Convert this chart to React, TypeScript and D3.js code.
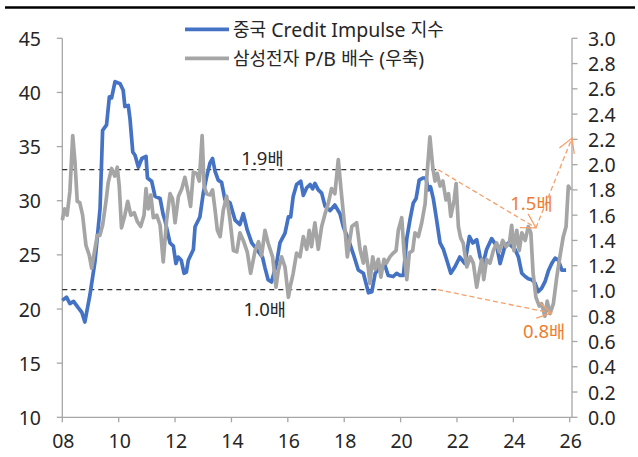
import * as d3 from 'd3';

// 중국 Credit Impulse 지수 (left axis), [decimal year, value]
const creditImpulse: [number, number][] = [
  [2008.0, 20.8], [2008.15, 21.1], [2008.27, 20.5], [2008.4, 20.7], [2008.57, 20.1], [2008.69, 19.7],
  [2008.8, 18.8], [2008.98, 21.3], [2009.16, 24.4], [2009.34, 29.3], [2009.43, 36.5], [2009.57, 37.0],
  [2009.67, 39.6], [2009.75, 39.5], [2009.87, 41.0], [2010.05, 40.8], [2010.16, 40.2], [2010.22, 38.7],
  [2010.34, 38.8], [2010.4, 37.6], [2010.5, 34.5], [2010.58, 34.2], [2010.7, 33.1], [2010.82, 33.9],
  [2010.97, 34.1], [2011.02, 32.1], [2011.17, 31.8], [2011.29, 30.4], [2011.47, 30.2], [2011.58, 28.7],
  [2011.64, 28.2], [2011.82, 26.1], [2011.94, 25.8], [2012.03, 24.2], [2012.11, 24.8], [2012.22, 24.5],
  [2012.32, 23.3], [2012.4, 23.4], [2012.47, 24.5], [2012.65, 25.5], [2012.71, 27.6], [2012.88, 28.5],
  [2013.0, 30.7], [2013.12, 32.2], [2013.24, 33.5], [2013.33, 33.9], [2013.42, 32.7], [2013.53, 31.9],
  [2013.65, 31.7], [2013.77, 30.1], [2013.95, 29.8], [2014.13, 28.2], [2014.3, 27.8], [2014.42, 28.8],
  [2014.56, 27.3], [2014.72, 26.1], [2014.9, 25.5], [2015.01, 25.1], [2015.1, 24.8], [2015.19, 23.8],
  [2015.3, 22.7], [2015.42, 22.5], [2015.6, 24.2], [2015.72, 26.1], [2015.9, 27.0], [2016.02, 28.5],
  [2016.1, 28.5], [2016.19, 30.4], [2016.31, 31.5], [2016.46, 31.8], [2016.55, 30.5], [2016.67, 31.2],
  [2016.79, 31.5], [2016.88, 31.1], [2016.96, 31.6], [2017.08, 31.0], [2017.2, 30.7], [2017.32, 29.5],
  [2017.5, 29.1], [2017.67, 29.6], [2017.85, 28.8], [2017.97, 27.6], [2018.15, 26.4], [2018.32, 25.1],
  [2018.5, 23.6], [2018.68, 23.3], [2018.86, 21.5], [2018.98, 21.6], [2019.1, 23.3], [2019.27, 23.9],
  [2019.45, 24.0], [2019.56, 23.1], [2019.74, 23.0], [2019.86, 23.3], [2019.98, 23.1], [2020.1, 23.1],
  [2020.22, 26.5], [2020.33, 28.2], [2020.45, 29.8], [2020.55, 30.2], [2020.66, 31.9], [2020.8, 32.1],
  [2020.9, 32.1], [2020.98, 31.0], [2021.06, 31.3], [2021.16, 30.2], [2021.28, 28.2], [2021.4, 26.1],
  [2021.52, 25.5], [2021.64, 24.5], [2021.78, 23.3], [2021.93, 23.9], [2022.1, 24.8], [2022.28, 24.2],
  [2022.44, 26.7], [2022.56, 26.1], [2022.7, 26.4], [2022.82, 24.8], [2022.93, 24.2], [2023.05, 25.5],
  [2023.23, 26.5], [2023.41, 25.8], [2023.53, 24.2], [2023.7, 25.8], [2023.82, 26.1], [2023.94, 25.8],
  [2024.06, 25.5], [2024.18, 24.8], [2024.3, 23.3], [2024.42, 23.0], [2024.53, 22.8], [2024.65, 22.7],
  [2024.77, 22.4], [2024.88, 21.6], [2025.0, 21.9], [2025.12, 22.5], [2025.24, 23.5], [2025.36, 24.2],
  [2025.48, 24.7], [2025.6, 24.5], [2025.72, 23.6], [2025.87, 23.6],
];

// 삼성전자 P/B 배수 (right axis)
const samsungPB: [number, number][] = [
  [2008.0, 1.56], [2008.08, 1.65], [2008.17, 1.6], [2008.27, 1.79], [2008.37, 2.23], [2008.45, 2.02],
  [2008.53, 1.71], [2008.62, 1.7], [2008.72, 1.6], [2008.84, 1.36], [2008.96, 1.28], [2009.04, 1.18],
  [2009.14, 1.31], [2009.24, 1.44], [2009.33, 1.44], [2009.43, 1.52], [2009.55, 1.71], [2009.63, 1.86],
  [2009.75, 1.97], [2009.86, 1.91], [2009.95, 1.98], [2010.02, 1.83], [2010.1, 1.5], [2010.22, 1.6],
  [2010.32, 1.71], [2010.43, 1.6], [2010.55, 1.62], [2010.66, 1.55], [2010.78, 1.51], [2010.9, 1.6],
  [2010.97, 1.81], [2011.05, 1.65], [2011.14, 1.76], [2011.23, 1.58], [2011.35, 1.6], [2011.47, 1.52],
  [2011.58, 1.23], [2011.7, 1.56], [2011.82, 1.77], [2011.91, 1.73], [2012.0, 1.54], [2012.12, 1.75],
  [2012.24, 1.81], [2012.35, 1.9], [2012.47, 1.77], [2012.55, 1.67], [2012.65, 1.94], [2012.77, 1.93],
  [2012.86, 1.87], [2012.96, 2.23], [2013.03, 1.83], [2013.12, 1.77], [2013.24, 1.76], [2013.33, 1.8],
  [2013.42, 1.64], [2013.5, 1.48], [2013.6, 1.43], [2013.71, 1.64], [2013.83, 1.75], [2013.95, 1.56],
  [2014.07, 1.32], [2014.19, 1.31], [2014.3, 1.46], [2014.42, 1.4], [2014.56, 1.31], [2014.68, 1.14],
  [2014.84, 1.32], [2014.96, 1.39], [2015.07, 1.28], [2015.19, 1.48], [2015.3, 1.38], [2015.46, 1.27],
  [2015.58, 1.03], [2015.66, 1.16], [2015.78, 1.27], [2015.9, 1.19], [2016.02, 0.95], [2016.08, 1.03],
  [2016.19, 1.14], [2016.31, 1.3], [2016.43, 1.27], [2016.55, 1.43], [2016.67, 1.33], [2016.76, 1.48],
  [2016.84, 1.35], [2016.96, 1.54], [2017.08, 1.33], [2017.2, 1.51], [2017.32, 1.61], [2017.43, 1.69],
  [2017.55, 1.81], [2017.67, 1.77], [2017.79, 2.04], [2017.91, 1.75], [2018.03, 1.48], [2018.11, 1.27],
  [2018.27, 1.51], [2018.44, 1.54], [2018.56, 1.33], [2018.68, 1.22], [2018.74, 1.35], [2018.86, 1.17],
  [2018.91, 1.06], [2019.01, 1.27], [2019.1, 1.17], [2019.21, 1.25], [2019.3, 1.11], [2019.41, 1.25],
  [2019.5, 1.22], [2019.62, 1.27], [2019.74, 1.3], [2019.84, 1.32], [2019.92, 1.48], [2020.04, 1.58],
  [2020.12, 1.32], [2020.22, 1.09], [2020.31, 1.3], [2020.43, 1.32], [2020.51, 1.46], [2020.63, 1.43],
  [2020.75, 1.54], [2020.87, 1.69], [2020.93, 1.9], [2021.04, 2.22], [2021.14, 1.98], [2021.22, 1.87],
  [2021.3, 1.93], [2021.4, 1.83], [2021.5, 1.87], [2021.61, 1.72], [2021.7, 1.77], [2021.78, 1.59],
  [2021.9, 1.72], [2021.97, 1.85], [2022.05, 1.51], [2022.13, 1.42], [2022.22, 1.38], [2022.35, 1.19],
  [2022.47, 1.27], [2022.58, 1.22], [2022.7, 1.03], [2022.8, 1.16], [2022.88, 1.25], [2022.95, 1.09],
  [2023.05, 1.25], [2023.17, 1.22], [2023.29, 1.32], [2023.41, 1.38], [2023.5, 1.31], [2023.62, 1.4],
  [2023.74, 1.35], [2023.86, 1.38], [2023.94, 1.52], [2024.02, 1.32], [2024.12, 1.48], [2024.21, 1.32],
  [2024.3, 1.46], [2024.42, 1.4], [2024.53, 1.51], [2024.62, 1.46], [2024.7, 1.14], [2024.8, 0.95],
  [2024.92, 0.88], [2025.0, 0.9], [2025.12, 0.8], [2025.2, 0.92], [2025.3, 0.82], [2025.42, 0.9],
  [2025.54, 1.11], [2025.65, 1.27], [2025.77, 1.43], [2025.87, 1.51], [2025.95, 1.83], [2026.03, 1.8],
];

const xTickYears = [2008, 2010, 2012, 2014, 2016, 2018, 2020, 2022, 2024, 2026];
const leftTicks = [10, 15, 20, 25, 30, 35, 40, 45];
const rightTicks = d3.range(0, 3.01, 0.2);

// P/B band lines (right axis) and the arrows drawn from their end
const bandLevels = [1.96, 1.01];
const bandEnd = 2021.33;
const arrows: [number, number, number, number][] = [
  [2021.33, 1.96, 2024.8, 1.5],
  [2024.8, 1.5, 2026.08, 2.21],
  [2021.33, 1.01, 2025.35, 0.825],
];
const notes: { num: string; year: number; pb: number; color: string }[] = [
  { num: '1.9', year: 2015.1, pb: 2.0, color: '#262626' },
  { num: '1.0', year: 2015.18, pb: 0.8, color: '#262626' },
  { num: '1.5', year: 2024.64, pb: 1.64, color: '#ED7D31' },
  { num: '0.8', year: 2025.09, pb: 0.63, color: '#ED7D31' },
];

const W = 638;
const H = 457;
const font = '"Noto Sans", "Noto Sans CJK KR", sans-serif';
const axisColor = '#A6A6A6';
const textColor = '#262626';

const x = d3.scaleLinear().domain([2008, 2026.08]).range([62.3, 572]);
const yL = d3.scaleLinear().domain([10, 45]).range([417.3, 38.3]);
const yR = d3.scaleLinear().domain([0, 3]).range([417.3, 38.3]);

const arrowHead = (x1: number, y1: number, x2: number, y2: number) => {
  const a = Math.atan2(y2 - y1, x2 - x1) + Math.PI;
  const len = 16;
  const s = Math.PI / 6;
  return `M${x2 + len * Math.cos(a - s)},${y2 + len * Math.sin(a - s)}L${x2},${y2}L${x2 + len * Math.cos(a + s)},${y2 + len * Math.sin(a + s)}`;
};

export default function App() {
  const blueLine = d3.line<[number, number]>().x((d) => x(d[0])).y((d) => yL(d[1]))(creditImpulse) ?? '';
  const grayLine = d3.line<[number, number]>().x((d) => x(d[0])).y((d) => yR(d[1]))(samsungPB) ?? '';

  const [x0] = x.range();
  const [yb, yt] = yL.range();
  const xr = x(2026.08);

  return (
    <svg width={W} height={H} style={{ position: 'absolute', left: 0, top: 0, background: '#fff' }} fontFamily={font}>
      <line x1={5} x2={635} y1={7.5} y2={7.5} stroke="#000" strokeWidth={2.5} />

      {/* axes */}
      <g stroke={axisColor} strokeWidth={1.3}>
        <line x1={x0} x2={x0} y1={yt} y2={yb} />
        <line x1={xr} x2={xr} y1={yt} y2={yb} />
        <line x1={x0} x2={xr} y1={yb} y2={yb} />
        {leftTicks.map((t) => (
          <line key={'l' + t} x1={x0 - 5.5} x2={x0} y1={yL(t)} y2={yL(t)} />
        ))}
        {rightTicks.map((t) => (
          <line key={'r' + t} x1={xr} x2={xr + 5.5} y1={yR(t)} y2={yR(t)} />
        ))}
        {xTickYears.map((t) => (
          <line key={'x' + t} x1={x(t)} x2={x(t)} y1={yb} y2={yb + 5} />
        ))}
      </g>
      <g fill={textColor} fontSize={19.5}>
        {leftTicks.map((t) => (
          <text key={'lt' + t} x={41} y={yL(t)} textAnchor="end" dominantBaseline="central">{t}</text>
        ))}
        {rightTicks.map((t) => (
          <text key={'rt' + t} x={588} y={yR(t)} dominantBaseline="central">{t.toFixed(1)}</text>
        ))}
        {xTickYears.map((t) => (
          <text key={'xt' + t} x={x(t) + 1} y={440} textAnchor="middle" dominantBaseline="central">
            {String(t % 100).padStart(2, '0')}
          </text>
        ))}
      </g>

      {/* band lines */}
      {bandLevels.map((b) => (
        <line key={b} x1={x0} x2={x(bandEnd)} y1={yR(b)} y2={yR(b)} stroke="#333" strokeWidth={1.2} strokeDasharray="5 4" />
      ))}

      {/* series */}
      <path d={blueLine} fill="none" stroke="#4472C4" strokeWidth={3.7} strokeLinejoin="round" />
      <path d={grayLine} fill="none" stroke="#A5A5A5" strokeWidth={3.7} strokeLinejoin="round" />

      {/* arrows */}
      <g stroke="#F4A06A" strokeWidth={1.3} fill="none">
        {arrows.map(([a, b, c, d], i) => {
          const px1 = x(a), py1 = yR(b), px2 = x(c), py2 = yR(d);
          return (
            <g key={i}>
              <line x1={px1} y1={py1} x2={px2} y2={py2} strokeDasharray="5 3" />
              <path d={arrowHead(px1, py1, px2, py2)} />
            </g>
          );
        })}
      </g>

      {notes.map((n) => (
        <text key={n.num} x={x(n.year)} y={yR(n.pb)} textAnchor="middle" fontSize={18.5} fill={n.color}>
          {n.num}
          <tspan fontSize={17.5}>배</tspan>
        </text>
      ))}

      {/* legend */}
      <line x1={185} x2={229} y1={29.3} y2={29.3} stroke="#4472C4" strokeWidth={3.7} />
      <text x={233} y={29.3} fontSize={19.5} fill={textColor} dominantBaseline="central">
        <tspan fontSize={18}>중국</tspan> Credit Impulse <tspan fontSize={18}>지수</tspan>
      </text>
      <line x1={185} x2={229} y1={58.3} y2={58.3} stroke="#A5A5A5" strokeWidth={3.7} />
      <text x={233} y={58.3} fontSize={19.5} fill={textColor} dominantBaseline="central">
        <tspan fontSize={18}>삼성전자</tspan> P/B <tspan fontSize={18}>배수</tspan> (<tspan fontSize={18}>우축</tspan>)
      </text>
    </svg>
  );
}
